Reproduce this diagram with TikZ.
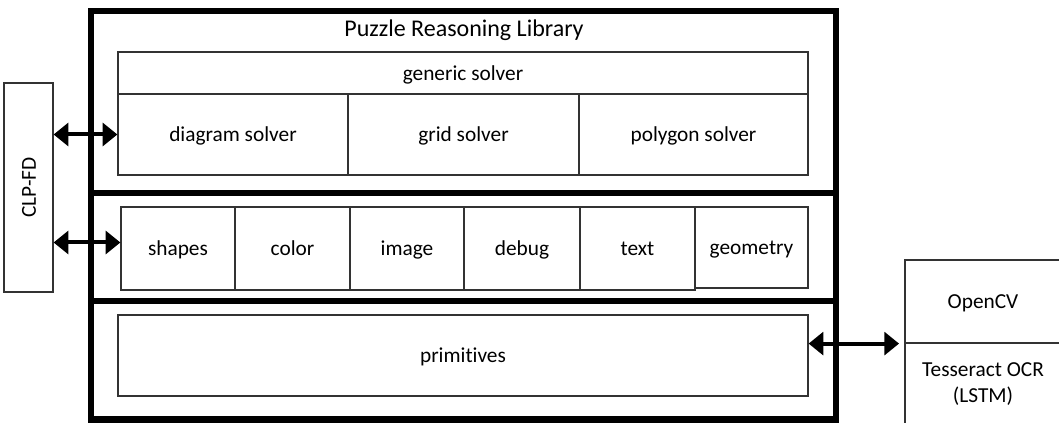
\documentclass[tikz,border=0pt]{standalone}
\usepackage{fontspec}
\setmainfont{Carlito}[Ligatures=CommonOff]
\usetikzlibrary{fit,arrows.meta}
\begin{document}
\begin{tikzpicture}[x=0.75pt,y=-0.75pt,
  cell/.style={draw=black!80, line width=0.9pt, inner sep=0pt, text=black,
    font=\fontsize{16}{19}\selectfont, align=center},
  lbl/.style={cell, draw=none, text height=13pt, text depth=2pt},
  frame/.style={draw=black, line width=5.2pt, inner sep=0pt},
  dbl/.style={line width=3pt, {Triangle[length=11pt,width=17pt]}-{Triangle[length=11pt,width=17pt]}},
  titletext/.style={font=\fontsize{18}{21}\selectfont, text=black}]
\useasboundingbox (0,0) rectangle (1059,423);
% outer frames
\node[frame, fit={(91,11)(836,193)}] (top) {};
\node[frame, fit={(91,193)(836,301)}] (mid) {};
\node[frame, fit={(91,301)(836,419.5)}] (bot) {};
\node[titletext] (title) at (464,30) {Puzzle Reasoning Library};
% top section
\node[cell, fit={(118,52)(808,94)}, label={[lbl]center:generic solver}] (generic) {};
\node[cell, fit={(118,94)(348,175)}, label={[lbl]center:diagram solver}] (diagram) {};
\node[cell, fit={(348,94)(579,175)}, label={[lbl]center:grid solver}] (grid) {};
\node[cell, fit={(579,94)(808,175)}, label={[lbl]center:polygon solver}] (polygon) {};
% middle section
\node[cell, fit={(121,207)(235,290)}, label={[lbl]center:shapes}] (shapes) {};
\node[cell, fit={(235,207)(350,290)}, label={[lbl]center:color}] (color) {};
\node[cell, fit={(350,207)(464,290)}, label={[lbl]center:image}] (image) {};
\node[cell, fit={(464,207)(580,290)}, label={[lbl]center:debug}] (debug) {};
\node[cell, fit={(580,207)(695,290)}, label={[lbl]center:text}] (text) {};
\node[cell, fit={(695,207)(808,288)}, label={[lbl]center:geometry}] (geometry) {};
% bottom section
\node[cell, fit={(118,315)(808,396)}, label={[lbl]center:primitives}] (prim) {};
% CLP-FD
\node[cell, fit={(4,83)(53,292)}, label={[lbl,rotate=90]center:CLP-FD}] (clp) {};
% external libraries
\begin{scope}
\clip (0,0) rectangle (1059,423);
\node[cell, fit={(905,260)(1061,343)}, label={[lbl]center:OpenCV}] (opencv) {};
\node[cell, fit={(905,343)(1061,430)}] (tess) {};
\end{scope}
\node[cell, draw=none] (tesstext) at (983,384) {Tesseract OCR\\(LSTM)};
% arrows
\draw[dbl] (clp.east |- diagram.west) -- (diagram.west);
\coordinate (a2) at ([yshift=4.5pt]shapes.west);
\draw[dbl] (clp.east |- a2) -- (a2);
\draw[dbl, shorten >=4pt] (prim.east |- opencv.south) -- (opencv.south west);
\end{tikzpicture}
\end{document}
